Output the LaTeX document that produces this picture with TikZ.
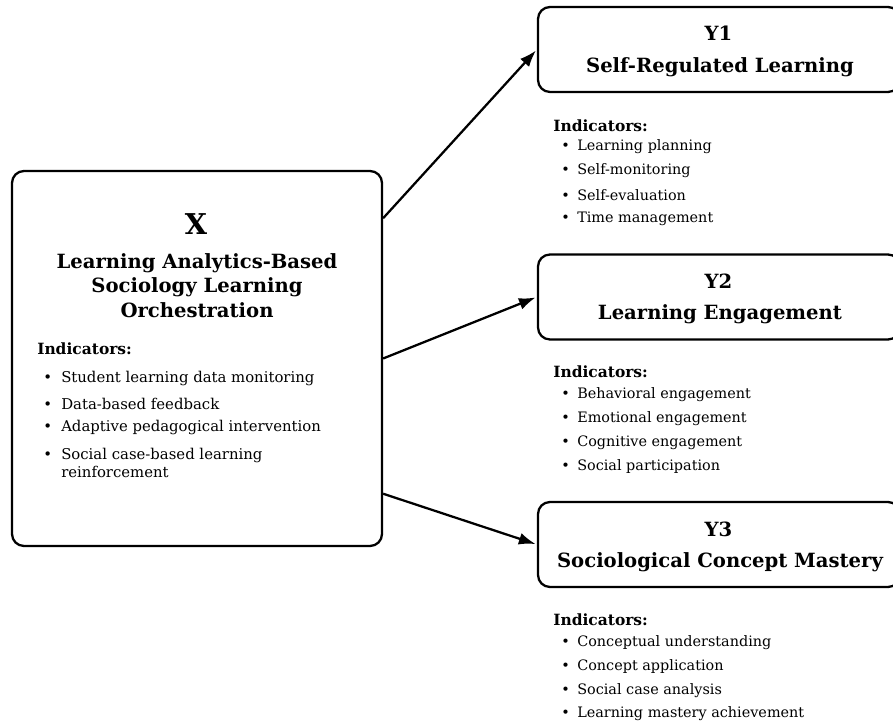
\documentclass[tikz,border=0pt]{standalone}
\usepackage{fontspec}
\setmainfont{DejaVu Serif}
\usetikzlibrary{arrows.meta, positioning}

\begin{document}
\begin{tikzpicture}[
        x=0.75pt, y=-0.75pt,
        >={Latex[length=12.5pt, width=9pt]},
        box/.style={draw, line width=1.7pt, rounded corners=9pt},
        bigid/.style={font=\fontsize{21.5}{25}\selectfont\bfseries, inner sep=0pt},
        headline/.style={font=\fontsize{14.7}{17.6}\selectfont\bfseries, inner sep=0pt},
        indhead/.style={font=\fontsize{11.6}{14}\selectfont\bfseries, inner sep=0pt, anchor=west},
        item/.style={font=\fontsize{11.15}{13.5}\selectfont, inner sep=0pt, anchor=west, align=left},
        ritem/.style={item, font=\fontsize{10.8}{13}\selectfont},
        link/.style={->, line width=1.7pt, shorten >=1pt}
    ]
    \useasboundingbox (0,0) rectangle (893,723);

    % Konstrukt X
    \node[box, minimum width=277.5pt, minimum height=281.25pt] (X) at (197,358.5) {};
    \node[bigid] (Xid) at (196,224) {X};
    \node[headline] (Xname1) at (197,263.5) {Learning Analytics-Based};
    \node[headline] (Xname2) at (197,287.5) {Sociology Learning};
    \node[headline] (Xname3) at (197,310.5) {Orchestration};
    \node[indhead] (Xind) at (37,348.5) {Indicators:};
    \foreach \t/\y in {Student learning data monitoring/378.5, Data-based feedback/404,
                       Adaptive pedagogical intervention/428}
        \node[item] at (43,\y) {\makebox[13.5pt][l]{\textbullet}\t};
    \node[item, anchor=north west] (Xlast) at (43,447.5) {\makebox[13.5pt][l]{\textbullet}Social case-based learning\\\hspace*{13.5pt}reinforcement};

    % Konstrukty Y
    \node[box, minimum width=271.5pt, minimum height=63.75pt] (Y1) at (719,49.5) {};
    \node[box, minimum width=271.5pt, minimum height=63.75pt] (Y2) at (719,297) {};
    \node[box, minimum width=271.5pt, minimum height=63.75pt] (Y3) at (719,544.5) {};

    \node[headline] (Y1id) at (718.5,33) {Y1};
    \node[headline] (Y1name) at (720,67) {Self-Regulated Learning};
    \node[headline] (Y2id) at (718.5,281) {Y2};
    \node[headline] (Y2name) at (720,314) {Learning Engagement};
    \node[headline] (Y3id) at (718.5,529) {Y3};
    \node[headline] (Y3name) at (720,562) {Sociological Concept Mastery};

    % Wskaźniki Y
    \node[indhead] (Y1ind) at (553,126) {Indicators:};
    \foreach \t [count=\i] in {Learning planning, Self-monitoring, Self-evaluation, Time management}
        \node[ritem] at (561,123+24*\i) {\makebox[12pt][l]{\textbullet}\t};
    \node[indhead] (Y2ind) at (553,372) {Indicators:};
    \foreach \t [count=\i] in {Behavioral engagement, Emotional engagement, Cognitive engagement, Social participation}
        \node[ritem] at (561,371+24*\i) {\makebox[12pt][l]{\textbullet}\t};
    \node[indhead] (Y3ind) at (553,620) {Indicators:};
    \foreach \t [count=\i] in {Conceptual understanding, Concept application, Social case analysis, Learning mastery achievement}
        \node[ritem] at (561,619.3+23.7*\i) {\makebox[12pt][l]{\textbullet}\t};

    % Strzałki X -> Y
    \draw[link] (X.37) -- (Y1.west);
    \draw[link] (X.east) -- (Y2.west);
    \draw[link] (X.-36) -- (Y3.west);

\end{tikzpicture}
\end{document}
